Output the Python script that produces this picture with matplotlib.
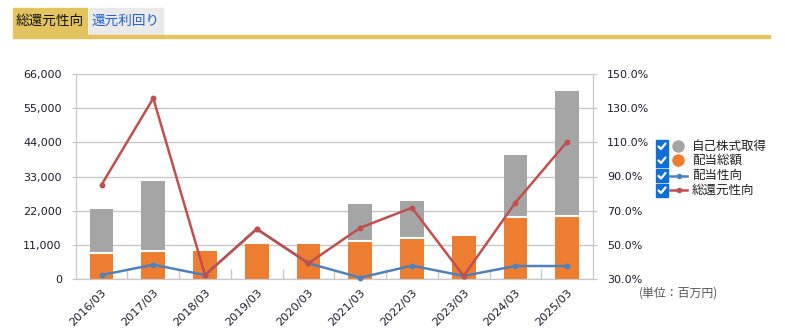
import matplotlib
matplotlib.use("Agg")
import matplotlib.pyplot as plt
from matplotlib.patches import Rectangle
from matplotlib.lines import Line2D
import numpy as np

plt.rcParams['font.family'] = ['Noto Sans CJK JP', 'DejaVu Sans']

# Fiscal years and values (million yen / percent)
years = ["2016/03", "2017/03", "2018/03", "2019/03", "2020/03",
         "2021/03", "2022/03", "2023/03", "2024/03", "2025/03"]
dividends = [8470, 8920, 9120, 11370, 11370, 12330, 13100, 13840, 20060, 20380]
buybacks = [14070, 22630, 0, 0, 0, 11910, 12010, 0, 19860, 40150]
payout_ratio = [32.3, 38.4, 32.3, 59.3, 39.2, 30.8, 37.8, 31.8, 37.6, 37.6]
total_return_ratio = [85.2, 135.8, 32.3, 59.3, 39.2, 60.0, 71.7, 31.8, 74.7, 110.4]

left_ticks = [0, 11000, 22000, 33000, 44000, 55000, 66000]
right_ticks = [30, 50, 70, 90, 110, 130, 150]

legend_labels = ["自己株式取得", "配当総額", "配当性向", "総還元性向"]
tabs = ["総還元性向", "還元利回り"]
unit_label = "(単位：百万円)"

C_ORANGE = "#ED7D31"
C_GRAY = "#A5A5A5"
C_BLUE = "#4F81BD"
C_RED = "#C0504D"
C_GRID = "#C8C8C8"
C_TEXT = "#1c1c2e"
C_CHECK = "#0F6FD6"
NUM_FONT = ["DejaVu Sans"]

W, H = 785, 335
fig = plt.figure(figsize=(W / 100, H / 100), dpi=100)

def px(x, y):
    return x / W, 1 - y / H

ax = fig.add_axes([75.7 / W, 1 - 279 / H, (593 - 75.7) / W, (279 - 74) / H])
x = np.arange(len(years))

ax.bar(x, dividends, width=0.46, color=C_ORANGE, zorder=2)
ax.bar(x, buybacks, width=0.46, bottom=dividends, color=C_GRAY, zorder=2)
# white separator between stacked segments
for xi, d, b in zip(x, dividends, buybacks):
    if b > 0:
        ax.plot([xi - 0.23, xi + 0.23], [d, d], color="white", lw=1.5, zorder=3)

ax.set_xlim(-0.5, len(years) - 0.5)
ax.set_ylim(0, 66000)
ax.set_yticks(left_ticks)
ax.set_yticklabels([f"{v:,}" for v in left_ticks], family=NUM_FONT)
ax.yaxis.grid(True, color=C_GRID, lw=1)
ax.set_axisbelow(True)

ax.set_xticks(x)
ax.set_xticklabels(years, rotation=45, ha="right", rotation_mode="anchor",
                   family=NUM_FONT)
ax.set_xticks(np.arange(0.5, len(years) - 1, 1), minor=True)
ax.tick_params(axis="x", which="major", length=0, pad=6, labelsize=8.2,
               labelcolor=C_TEXT)
ax.tick_params(axis="x", which="minor", direction="in", length=7,
               color=C_GRID, width=1)
ax.tick_params(axis="y", length=3, color=C_GRID, labelsize=8,
               labelcolor=C_TEXT, pad=7)
for s in ["left", "right", "bottom"]:
    ax.spines[s].set_color(C_GRID)
ax.spines["top"].set_visible(False)

ax2 = ax.twinx()
ax2.set_ylim(30, 150)
ax2.set_yticks(right_ticks)
ax2.set_yticklabels([f"{v:.1f}%" for v in right_ticks], family=NUM_FONT)
ax2.tick_params(axis="y", length=3, color=C_GRID, labelsize=8,
                labelcolor=C_TEXT, pad=7)
for s in ["left", "right", "bottom"]:
    ax2.spines[s].set_color(C_GRID)
ax2.spines["top"].set_visible(False)

ax2.plot(x, payout_ratio, color=C_BLUE, lw=1.8, marker="o", ms=3.2,
         clip_on=False, zorder=3)
ax2.plot(x, total_return_ratio, color=C_RED, lw=1.8, marker="o", ms=3.2,
         clip_on=False, zorder=4)

# tabs
fig.patches.append(Rectangle(px(13, 36), 74 / W, 28 / H, transform=fig.transFigure,
                             color="#E2C35E", zorder=1))
fig.patches.append(Rectangle(px(88.5, 35), 74.5 / W, 27 / H, transform=fig.transFigure,
                             color="#EAEAEA", zorder=1))
fig.patches.append(Rectangle(px(13, 38.3), 757 / W, 3.3 / H, transform=fig.transFigure,
                             color="#E2C35E", zorder=1))
fig.text(*px(50, 21), tabs[0], fontsize=9.8, color="#111111", ha="center", va="center")
fig.text(*px(125.5, 21), tabs[1], fontsize=9.8, color="#2060D0", ha="center", va="center")

# legend with check boxes
rows_y = [146, 160, 175.5, 190]
for i, (yy, lab) in enumerate(zip(rows_y, legend_labels)):
    fig.patches.append(Rectangle(px(655.5, yy + 6.5), 12.5 / W, 13 / H,
                                 transform=fig.transFigure, color=C_CHECK, zorder=5))
    cx0, cy0 = px(658.5, yy + 0.5)
    cx1, cy1 = px(661, yy + 3)
    cx2, cy2 = px(665.5, yy - 2.5)
    fig.lines.append(Line2D([cx0, cx1, cx2], [cy0, cy1, cy2], transform=fig.transFigure,
                            color="white", lw=1.6, zorder=6, solid_capstyle="round"))
    if i < 2:
        mx, my = px(678, yy)
        fig.lines.append(Line2D([mx], [my], transform=fig.transFigure, linestyle="none",
                                marker="o", ms=8, color=[C_GRAY, C_ORANGE][i], zorder=5))
    else:
        lx0, ly = px(670, yy)
        lx1, _ = px(687, yy)
        col = [C_BLUE, C_RED][i - 2]
        fig.lines.append(Line2D([lx0, lx1], [ly, ly], transform=fig.transFigure,
                                color=col, lw=1.8, zorder=5))
        fig.lines.append(Line2D([(lx0 + lx1) / 2], [ly], transform=fig.transFigure,
                                color=col, marker="o", ms=3, zorder=5))
    fig.text(*px(692, yy), lab, fontsize=9, color="#222222", ha="left", va="center")

fig.text(*px(679, 293), unit_label, fontsize=8.6, color="#555555", ha="center", va="center")

fig.savefig("out.png", dpi=100)
